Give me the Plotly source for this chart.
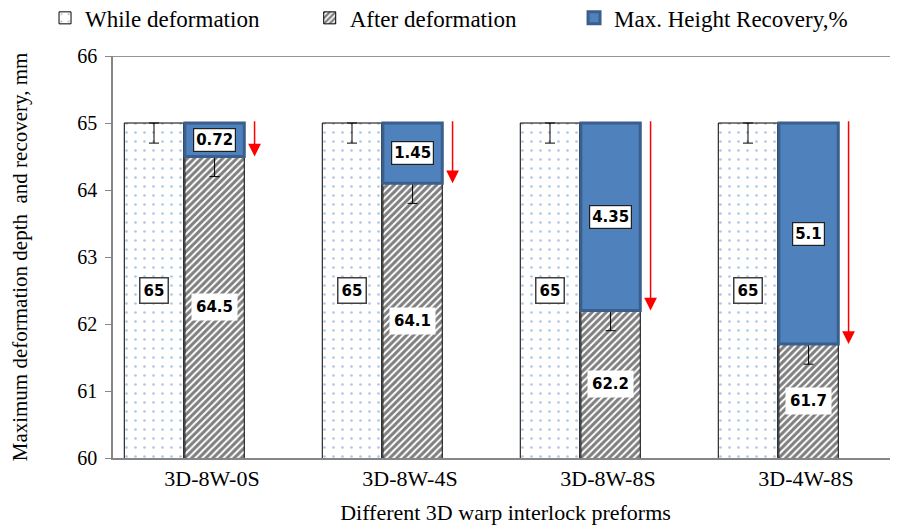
"""
Deformation depth and height recovery of 3D warp interlock preforms
"""

import plotly.graph_objects as go

categories = ['3D-8W-0S', '3D-8W-4S', '3D-8W-8S', '3D-4W-8S']
while_deformation = [65, 65, 65, 65]
after_deformation = [64.5, 64.1, 62.2, 61.7]
recovery_pct = [0.72, 1.45, 4.35, 5.1]
while_err = [0.3, 0.3, 0.3, 0.3]
after_err = [0.3, 0.3, 0.3, 0.3]

SERIF = 'Liberation Serif, Times New Roman, serif'
LABEL_FONT = dict(family='DejaVu Sans, Verdana, sans-serif', size=15, color='black')

idx = list(range(len(categories)))
x_while = [i - 0.293 for i in idx]
x_after = [i + 0.013 for i in idx]
x_arrow = [i + 0.215 for i in idx]
bar_w = 0.3

fig = go.Figure()

# While deformation (dotted white bars)
fig.add_trace(go.Bar(
    x=x_while,
    y=while_deformation,
    width=bar_w,
    name='While deformation',
    legend='legend',
    marker=dict(
        color='white',
        line=dict(color='black', width=1),
        pattern=dict(shape='.', fgcolor='#5B8FD0', bgcolor='white', size=9, solidity=0.07)
    ),
    error_y=dict(type='data', symmetric=False, array=[0] * 4, arrayminus=while_err,
                 color='black', thickness=1, width=5),
))

# After deformation (hatched bars)
fig.add_trace(go.Bar(
    x=x_after,
    y=after_deformation,
    width=bar_w,
    name='After deformation',
    legend='legend2',
    marker=dict(
        color='white',
        line=dict(color='black', width=1),
        pattern=dict(shape='/', fgcolor='black', bgcolor='white', size=5, solidity=0.6)
    ),
    error_y=dict(type='data', symmetric=False, array=[0] * 4, arrayminus=after_err,
                 color='black', thickness=1, width=5),
))

# Recovery (blue segment from after value up to while value)
fig.add_trace(go.Bar(
    x=x_after,
    y=[w - a for w, a in zip(while_deformation, after_deformation)],
    base=after_deformation,
    width=bar_w,
    name='Max. Height Recovery,%',
    legend='legend3',
    marker=dict(color='#4F81BD', line=dict(color='#3A5F8D', width=3)),
))

# Value labels
for i in idx:
    fig.add_annotation(
        x=x_while[i], y=(60 + while_deformation[i]) / 2,
        text='<b>%g</b>' % while_deformation[i], showarrow=False,
        font=LABEL_FONT, bgcolor='white', bordercolor='#404040', borderwidth=1.5, borderpad=3
    )
    fig.add_annotation(
        x=x_after[i], y=(60 + after_deformation[i]) / 2,
        text='<b>%g</b>' % after_deformation[i], showarrow=False,
        font=LABEL_FONT, bgcolor='white', borderpad=4
    )
    fig.add_annotation(
        x=x_after[i], y=(after_deformation[i] + while_deformation[i]) / 2,
        text='<b>%g</b>' % recovery_pct[i], showarrow=False,
        font=LABEL_FONT, bgcolor='white', bordercolor='#202020', borderwidth=1.2, borderpad=2
    )
    # red arrow showing the drop
    fig.add_annotation(
        x=x_arrow[i], y=after_deformation[i],
        ax=x_arrow[i], ay=while_deformation[i] + 0.05,
        xref='x', yref='y', axref='x', ayref='y',
        text='', showarrow=True, arrowhead=2, arrowsize=1.7,
        arrowwidth=1.5, arrowcolor='#FF0000'
    )

# top frame line
fig.add_shape(type='line', xref='paper', yref='y', x0=0, x1=1, y0=66, y1=66,
              line=dict(color='#707070', width=1.5))

legend_style = dict(
    orientation='h', xref='container', y=0.981, yref='container',
    yanchor='middle', xanchor='left',
    font=dict(family=SERIF, size=23, color='black'),
    itemwidth=30, bgcolor='rgba(0,0,0,0)'
)

# page body adds an 8px margin, so the figure is sized 8px smaller
fig.update_layout(
    width=890,
    height=521,
    margin=dict(l=105, r=0, t=48, b=71),
    barmode='overlay',
    plot_bgcolor='white',
    paper_bgcolor='white',
    font=dict(family=SERIF, color='black'),
    showlegend=True,
    legend=dict(x=0.0416, **legend_style),
    legend2=dict(x=0.339, **legend_style),
    legend3=dict(x=0.636, **legend_style),
    xaxis=dict(
        range=[-0.5, -0.5 + 785 / 198],
        tickvals=idx,
        ticktext=categories,
        showgrid=False,
        zeroline=False,
        showline=True,
        linecolor='#868686',
        linewidth=1.5,
        ticks='',
        automargin=False,
        tickfont=dict(family=SERIF, size=22, color='black'),
        title=dict(text='Different 3D warp interlock preforms',
                   font=dict(family=SERIF, size=22, color='black'), standoff=14),
    ),
    yaxis=dict(
        range=[60, 66],
        dtick=1,
        showgrid=False,
        zeroline=False,
        showline=True,
        linecolor='#868686',
        linewidth=1.5,
        ticks='outside',
        ticklen=6,
        tickcolor='#868686',
        ticklabelstandoff=4,
        automargin=False,
        tickfont=dict(family=SERIF, size=20, color='black'),
        title=dict(text='Maximum deformation depth  and recovery, mm',
                   font=dict(family=SERIF, size=21, color='black'), standoff=46),
    ),
)

fig.write_html('out.html')
